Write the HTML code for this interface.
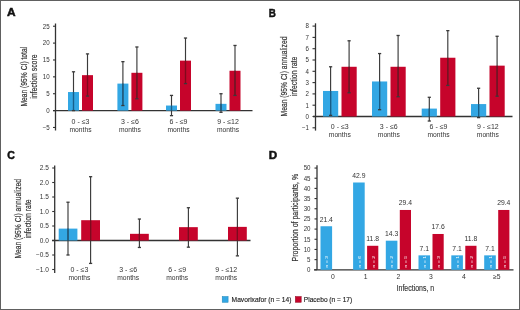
<!DOCTYPE html>
<html><head><meta charset="utf-8"><style>
html,body{margin:0;padding:0;background:#fff;}
body{width:520px;height:310px;overflow:hidden;}
svg{display:block;font-family:"Liberation Sans", sans-serif;will-change:transform;}
</style></head><body>
<svg width="520" height="310" viewBox="0 0 520 310">
<rect x="0" y="0" width="520" height="310" fill="#fff"/>
<text x="6.9" y="16.3" font-size="11.4" text-anchor="start" fill="#111" font-weight="bold" textLength="8.6" lengthAdjust="spacingAndGlyphs" stroke="#111" stroke-width="0.5">A</text>
<line x1="55.5" y1="23.5" x2="55.5" y2="130.5" stroke="#333333" stroke-width="1.3"/>
<line x1="53.0" y1="26.224999999999994" x2="55.5" y2="26.224999999999994" stroke="#333333" stroke-width="1.1"/>
<text x="49.7" y="28.574999999999996" font-size="6.5" text-anchor="end" fill="#333333" font-weight="normal" textLength="6.87" lengthAdjust="spacingAndGlyphs">25</text>
<line x1="53.0" y1="43.099999999999994" x2="55.5" y2="43.099999999999994" stroke="#333333" stroke-width="1.1"/>
<text x="49.7" y="45.449999999999996" font-size="6.5" text-anchor="end" fill="#333333" font-weight="normal" textLength="6.87" lengthAdjust="spacingAndGlyphs">20</text>
<line x1="53.0" y1="59.974999999999994" x2="55.5" y2="59.974999999999994" stroke="#333333" stroke-width="1.1"/>
<text x="49.7" y="62.324999999999996" font-size="6.5" text-anchor="end" fill="#333333" font-weight="normal" textLength="6.87" lengthAdjust="spacingAndGlyphs">15</text>
<line x1="53.0" y1="76.85" x2="55.5" y2="76.85" stroke="#333333" stroke-width="1.1"/>
<text x="49.7" y="79.19999999999999" font-size="6.5" text-anchor="end" fill="#333333" font-weight="normal" textLength="6.87" lengthAdjust="spacingAndGlyphs">10</text>
<line x1="53.0" y1="93.725" x2="55.5" y2="93.725" stroke="#333333" stroke-width="1.1"/>
<text x="49.7" y="96.07499999999999" font-size="6.5" text-anchor="end" fill="#333333" font-weight="normal" textLength="3.43" lengthAdjust="spacingAndGlyphs">5</text>
<line x1="53.0" y1="110.6" x2="55.5" y2="110.6" stroke="#333333" stroke-width="1.1"/>
<text x="49.7" y="112.94999999999999" font-size="6.5" text-anchor="end" fill="#333333" font-weight="normal" textLength="3.43" lengthAdjust="spacingAndGlyphs">0</text>
<line x1="53.0" y1="127.475" x2="55.5" y2="127.475" stroke="#333333" stroke-width="1.1"/>
<text x="49.7" y="129.825" font-size="6.5" text-anchor="end" fill="#333333" font-weight="normal" textLength="7.04" lengthAdjust="spacingAndGlyphs">−5</text>
<line x1="53" y1="110.6" x2="252.5" y2="110.6" stroke="#333333" stroke-width="1.3"/>
<rect x="68.00" y="92.04" width="11.00" height="18.56" fill="#33a7e4"/>
<rect x="82.00" y="75.16" width="11.00" height="35.44" fill="#c6042b"/>
<line x1="73.5" y1="71.7875" x2="73.5" y2="110.6" stroke="#3a3a3a" stroke-width="1.15"/>
<line x1="73.5" y1="92.0375" x2="73.5" y2="110.6" stroke="#165f8c" stroke-width="1.15"/>
<line x1="71.9" y1="71.7875" x2="75.1" y2="71.7875" stroke="#3a3a3a" stroke-width="1.3"/>
<line x1="71.9" y1="110.6" x2="75.1" y2="110.6" stroke="#3a3a3a" stroke-width="1.3"/>
<line x1="87.5" y1="53.89999999999999" x2="87.5" y2="96.08749999999999" stroke="#3a3a3a" stroke-width="1.15"/>
<line x1="87.5" y1="75.1625" x2="87.5" y2="96.08749999999999" stroke="#82081c" stroke-width="1.15"/>
<line x1="85.9" y1="53.89999999999999" x2="89.1" y2="53.89999999999999" stroke="#3a3a3a" stroke-width="1.3"/>
<line x1="85.9" y1="96.08749999999999" x2="89.1" y2="96.08749999999999" stroke="#3a3a3a" stroke-width="1.3"/>
<rect x="117.40" y="83.60" width="11.00" height="27.00" fill="#33a7e4"/>
<rect x="131.40" y="72.80" width="11.00" height="37.80" fill="#c6042b"/>
<line x1="122.9" y1="61.662499999999994" x2="122.9" y2="105.5375" stroke="#3a3a3a" stroke-width="1.15"/>
<line x1="122.9" y1="83.6" x2="122.9" y2="105.5375" stroke="#165f8c" stroke-width="1.15"/>
<line x1="121.30000000000001" y1="61.662499999999994" x2="124.5" y2="61.662499999999994" stroke="#3a3a3a" stroke-width="1.3"/>
<line x1="121.30000000000001" y1="105.5375" x2="124.5" y2="105.5375" stroke="#3a3a3a" stroke-width="1.3"/>
<line x1="136.9" y1="46.98124999999999" x2="136.9" y2="98.7875" stroke="#3a3a3a" stroke-width="1.15"/>
<line x1="136.9" y1="72.8" x2="136.9" y2="98.7875" stroke="#82081c" stroke-width="1.15"/>
<line x1="135.3" y1="46.98124999999999" x2="138.5" y2="46.98124999999999" stroke="#3a3a3a" stroke-width="1.3"/>
<line x1="135.3" y1="98.7875" x2="138.5" y2="98.7875" stroke="#3a3a3a" stroke-width="1.3"/>
<rect x="166.00" y="105.54" width="11.00" height="5.06" fill="#33a7e4"/>
<rect x="180.00" y="60.65" width="11.00" height="49.95" fill="#c6042b"/>
<line x1="171.5" y1="95.4125" x2="171.5" y2="115.6625" stroke="#3a3a3a" stroke-width="1.15"/>
<line x1="171.5" y1="105.5375" x2="171.5" y2="110.6" stroke="#165f8c" stroke-width="1.15"/>
<line x1="169.9" y1="95.4125" x2="173.1" y2="95.4125" stroke="#3a3a3a" stroke-width="1.3"/>
<line x1="169.9" y1="115.6625" x2="173.1" y2="115.6625" stroke="#3a3a3a" stroke-width="1.3"/>
<line x1="185.5" y1="38.037499999999994" x2="185.5" y2="83.6" stroke="#3a3a3a" stroke-width="1.15"/>
<line x1="185.5" y1="60.64999999999999" x2="185.5" y2="83.6" stroke="#82081c" stroke-width="1.15"/>
<line x1="183.9" y1="38.037499999999994" x2="187.1" y2="38.037499999999994" stroke="#3a3a3a" stroke-width="1.3"/>
<line x1="183.9" y1="83.6" x2="187.1" y2="83.6" stroke="#3a3a3a" stroke-width="1.3"/>
<rect x="215.50" y="103.85" width="11.00" height="6.75" fill="#33a7e4"/>
<rect x="229.50" y="70.77" width="11.00" height="39.83" fill="#c6042b"/>
<line x1="221.0" y1="93.725" x2="221.0" y2="112.2875" stroke="#3a3a3a" stroke-width="1.15"/>
<line x1="221.0" y1="103.85" x2="221.0" y2="110.6" stroke="#165f8c" stroke-width="1.15"/>
<line x1="219.4" y1="93.725" x2="222.6" y2="93.725" stroke="#3a3a3a" stroke-width="1.3"/>
<line x1="219.4" y1="112.2875" x2="222.6" y2="112.2875" stroke="#3a3a3a" stroke-width="1.3"/>
<line x1="235.0" y1="45.46249999999999" x2="235.0" y2="95.4125" stroke="#3a3a3a" stroke-width="1.15"/>
<line x1="235.0" y1="70.77499999999999" x2="235.0" y2="95.4125" stroke="#82081c" stroke-width="1.15"/>
<line x1="233.4" y1="45.46249999999999" x2="236.6" y2="45.46249999999999" stroke="#3a3a3a" stroke-width="1.3"/>
<line x1="233.4" y1="95.4125" x2="236.6" y2="95.4125" stroke="#3a3a3a" stroke-width="1.3"/>
<text x="80.5" y="124.0" font-size="7" text-anchor="middle" fill="#333333" font-weight="normal">0 - ≤3</text>
<text x="80.5" y="131.5" font-size="7" text-anchor="middle" fill="#333333" font-weight="normal" textLength="22" lengthAdjust="spacingAndGlyphs">months</text>
<text x="129.9" y="124.0" font-size="7" text-anchor="middle" fill="#333333" font-weight="normal">3 - ≤6</text>
<text x="129.9" y="131.5" font-size="7" text-anchor="middle" fill="#333333" font-weight="normal" textLength="22" lengthAdjust="spacingAndGlyphs">months</text>
<text x="178.5" y="124.0" font-size="7" text-anchor="middle" fill="#333333" font-weight="normal">6 - ≤9</text>
<text x="178.5" y="131.5" font-size="7" text-anchor="middle" fill="#333333" font-weight="normal" textLength="22" lengthAdjust="spacingAndGlyphs">months</text>
<text x="228.0" y="124.0" font-size="7" text-anchor="middle" fill="#333333" font-weight="normal">9 - ≤12</text>
<text x="228.0" y="131.5" font-size="7" text-anchor="middle" fill="#333333" font-weight="normal" textLength="22" lengthAdjust="spacingAndGlyphs">months</text>
<text x="26.8" y="76.7" font-size="9.3" text-anchor="middle" fill="#333333" font-weight="normal" textLength="59.8" lengthAdjust="spacingAndGlyphs" transform="rotate(-90 26.8 76.7)" stroke="#333" stroke-width="0.2">Mean (95% CI) total</text>
<text x="36.9" y="76.65" font-size="9.3" text-anchor="middle" fill="#333333" font-weight="normal" textLength="44.3" lengthAdjust="spacingAndGlyphs" transform="rotate(-90 36.9 76.65)" stroke="#333" stroke-width="0.2">infection score</text>
<text x="268.8" y="16.5" font-size="11.4" text-anchor="start" fill="#111" font-weight="bold" textLength="7.1" lengthAdjust="spacingAndGlyphs" stroke="#111" stroke-width="0.5">B</text>
<line x1="315.5" y1="23.3" x2="315.5" y2="130.6" stroke="#333333" stroke-width="1.3"/>
<line x1="312.5" y1="26.099999999999994" x2="315.5" y2="26.099999999999994" stroke="#333333" stroke-width="1.1"/>
<text x="309.0" y="28.449999999999996" font-size="6.5" text-anchor="end" fill="#333333" font-weight="normal" textLength="3.43" lengthAdjust="spacingAndGlyphs">8</text>
<line x1="312.5" y1="37.39999999999999" x2="315.5" y2="37.39999999999999" stroke="#333333" stroke-width="1.1"/>
<text x="309.0" y="39.74999999999999" font-size="6.5" text-anchor="end" fill="#333333" font-weight="normal" textLength="3.43" lengthAdjust="spacingAndGlyphs">7</text>
<line x1="312.5" y1="48.69999999999999" x2="315.5" y2="48.69999999999999" stroke="#333333" stroke-width="1.1"/>
<text x="309.0" y="51.04999999999999" font-size="6.5" text-anchor="end" fill="#333333" font-weight="normal" textLength="3.43" lengthAdjust="spacingAndGlyphs">6</text>
<line x1="312.5" y1="60.0" x2="315.5" y2="60.0" stroke="#333333" stroke-width="1.1"/>
<text x="309.0" y="62.35" font-size="6.5" text-anchor="end" fill="#333333" font-weight="normal" textLength="3.43" lengthAdjust="spacingAndGlyphs">5</text>
<line x1="312.5" y1="71.3" x2="315.5" y2="71.3" stroke="#333333" stroke-width="1.1"/>
<text x="309.0" y="73.64999999999999" font-size="6.5" text-anchor="end" fill="#333333" font-weight="normal" textLength="3.43" lengthAdjust="spacingAndGlyphs">4</text>
<line x1="312.5" y1="82.6" x2="315.5" y2="82.6" stroke="#333333" stroke-width="1.1"/>
<text x="309.0" y="84.94999999999999" font-size="6.5" text-anchor="end" fill="#333333" font-weight="normal" textLength="3.43" lengthAdjust="spacingAndGlyphs">3</text>
<line x1="312.5" y1="93.9" x2="315.5" y2="93.9" stroke="#333333" stroke-width="1.1"/>
<text x="309.0" y="96.25" font-size="6.5" text-anchor="end" fill="#333333" font-weight="normal" textLength="3.43" lengthAdjust="spacingAndGlyphs">2</text>
<line x1="312.5" y1="105.2" x2="315.5" y2="105.2" stroke="#333333" stroke-width="1.1"/>
<text x="309.0" y="107.55" font-size="6.5" text-anchor="end" fill="#333333" font-weight="normal" textLength="3.43" lengthAdjust="spacingAndGlyphs">1</text>
<line x1="312.5" y1="116.5" x2="315.5" y2="116.5" stroke="#333333" stroke-width="1.1"/>
<text x="309.0" y="118.85" font-size="6.5" text-anchor="end" fill="#333333" font-weight="normal" textLength="3.43" lengthAdjust="spacingAndGlyphs">0</text>
<line x1="312.5" y1="127.8" x2="315.5" y2="127.8" stroke="#333333" stroke-width="1.1"/>
<text x="309.0" y="130.15" font-size="6.5" text-anchor="end" fill="#333333" font-weight="normal" textLength="7.04" lengthAdjust="spacingAndGlyphs">−1</text>
<line x1="313" y1="116.5" x2="512.5" y2="116.5" stroke="#333333" stroke-width="1.3"/>
<rect x="323.00" y="90.96" width="15.20" height="25.54" fill="#33a7e4"/>
<rect x="341.50" y="66.78" width="15.20" height="49.72" fill="#c6042b"/>
<line x1="330.6" y1="66.78" x2="330.6" y2="115.37" stroke="#3a3a3a" stroke-width="1.15"/>
<line x1="330.6" y1="90.962" x2="330.6" y2="115.37" stroke="#165f8c" stroke-width="1.15"/>
<line x1="329.0" y1="66.78" x2="332.20000000000005" y2="66.78" stroke="#3a3a3a" stroke-width="1.3"/>
<line x1="329.0" y1="115.37" x2="332.20000000000005" y2="115.37" stroke="#3a3a3a" stroke-width="1.3"/>
<line x1="349.1" y1="40.78999999999999" x2="349.1" y2="92.77" stroke="#3a3a3a" stroke-width="1.15"/>
<line x1="349.1" y1="66.78" x2="349.1" y2="92.77" stroke="#82081c" stroke-width="1.15"/>
<line x1="347.5" y1="40.78999999999999" x2="350.70000000000005" y2="40.78999999999999" stroke="#3a3a3a" stroke-width="1.3"/>
<line x1="347.5" y1="92.77" x2="350.70000000000005" y2="92.77" stroke="#3a3a3a" stroke-width="1.3"/>
<rect x="372.00" y="81.47" width="15.20" height="35.03" fill="#33a7e4"/>
<rect x="390.50" y="66.78" width="15.20" height="49.72" fill="#c6042b"/>
<line x1="379.6" y1="53.55899999999999" x2="379.6" y2="109.72" stroke="#3a3a3a" stroke-width="1.15"/>
<line x1="379.6" y1="81.47" x2="379.6" y2="109.72" stroke="#165f8c" stroke-width="1.15"/>
<line x1="378.0" y1="53.55899999999999" x2="381.20000000000005" y2="53.55899999999999" stroke="#3a3a3a" stroke-width="1.3"/>
<line x1="378.0" y1="109.72" x2="381.20000000000005" y2="109.72" stroke="#3a3a3a" stroke-width="1.3"/>
<line x1="398.1" y1="35.479" x2="398.1" y2="96.725" stroke="#3a3a3a" stroke-width="1.15"/>
<line x1="398.1" y1="66.78" x2="398.1" y2="96.725" stroke="#82081c" stroke-width="1.15"/>
<line x1="396.5" y1="35.479" x2="399.70000000000005" y2="35.479" stroke="#3a3a3a" stroke-width="1.3"/>
<line x1="396.5" y1="96.725" x2="399.70000000000005" y2="96.725" stroke="#3a3a3a" stroke-width="1.3"/>
<rect x="421.70" y="108.59" width="15.20" height="7.91" fill="#33a7e4"/>
<rect x="440.20" y="57.74" width="15.20" height="58.76" fill="#c6042b"/>
<line x1="429.3" y1="97.28999999999999" x2="429.3" y2="121.02" stroke="#3a3a3a" stroke-width="1.15"/>
<line x1="429.3" y1="108.59" x2="429.3" y2="116.5" stroke="#165f8c" stroke-width="1.15"/>
<line x1="427.7" y1="97.28999999999999" x2="430.90000000000003" y2="97.28999999999999" stroke="#3a3a3a" stroke-width="1.3"/>
<line x1="427.7" y1="121.02" x2="430.90000000000003" y2="121.02" stroke="#3a3a3a" stroke-width="1.3"/>
<line x1="447.8" y1="30.620000000000005" x2="447.8" y2="85.425" stroke="#3a3a3a" stroke-width="1.15"/>
<line x1="447.8" y1="57.739999999999995" x2="447.8" y2="85.425" stroke="#82081c" stroke-width="1.15"/>
<line x1="446.2" y1="30.620000000000005" x2="449.40000000000003" y2="30.620000000000005" stroke="#3a3a3a" stroke-width="1.3"/>
<line x1="446.2" y1="85.425" x2="449.40000000000003" y2="85.425" stroke="#3a3a3a" stroke-width="1.3"/>
<rect x="471.00" y="104.07" width="15.20" height="12.43" fill="#33a7e4"/>
<rect x="489.50" y="65.65" width="15.20" height="50.85" fill="#c6042b"/>
<line x1="478.6" y1="88.25" x2="478.6" y2="117.63" stroke="#3a3a3a" stroke-width="1.15"/>
<line x1="478.6" y1="104.07" x2="478.6" y2="116.5" stroke="#165f8c" stroke-width="1.15"/>
<line x1="477.0" y1="88.25" x2="480.20000000000005" y2="88.25" stroke="#3a3a3a" stroke-width="1.3"/>
<line x1="477.0" y1="117.63" x2="480.20000000000005" y2="117.63" stroke="#3a3a3a" stroke-width="1.3"/>
<line x1="497.1" y1="36.269999999999996" x2="497.1" y2="96.16" stroke="#3a3a3a" stroke-width="1.15"/>
<line x1="497.1" y1="65.65" x2="497.1" y2="96.16" stroke="#82081c" stroke-width="1.15"/>
<line x1="495.5" y1="36.269999999999996" x2="498.70000000000005" y2="36.269999999999996" stroke="#3a3a3a" stroke-width="1.3"/>
<line x1="495.5" y1="96.16" x2="498.70000000000005" y2="96.16" stroke="#3a3a3a" stroke-width="1.3"/>
<text x="339.8" y="129.1" font-size="7" text-anchor="middle" fill="#333333" font-weight="normal">0 - ≤3</text>
<text x="339.8" y="136.8" font-size="7" text-anchor="middle" fill="#333333" font-weight="normal" textLength="22" lengthAdjust="spacingAndGlyphs">months</text>
<text x="388.8" y="129.1" font-size="7" text-anchor="middle" fill="#333333" font-weight="normal">3 - ≤6</text>
<text x="388.8" y="136.8" font-size="7" text-anchor="middle" fill="#333333" font-weight="normal" textLength="22" lengthAdjust="spacingAndGlyphs">months</text>
<text x="438.5" y="129.1" font-size="7" text-anchor="middle" fill="#333333" font-weight="normal">6 - ≤9</text>
<text x="438.5" y="136.8" font-size="7" text-anchor="middle" fill="#333333" font-weight="normal" textLength="22" lengthAdjust="spacingAndGlyphs">months</text>
<text x="487.8" y="129.1" font-size="7" text-anchor="middle" fill="#333333" font-weight="normal">9 - ≤12</text>
<text x="487.8" y="136.8" font-size="7" text-anchor="middle" fill="#333333" font-weight="normal" textLength="22" lengthAdjust="spacingAndGlyphs">months</text>
<text x="287.0" y="76.5" font-size="9.3" text-anchor="middle" fill="#333333" font-weight="normal" textLength="80" lengthAdjust="spacingAndGlyphs" transform="rotate(-90 287.0 76.5)" stroke="#333" stroke-width="0.2">Mean (95% CI) annualized</text>
<text x="297.2" y="76.45" font-size="9.3" text-anchor="middle" fill="#333333" font-weight="normal" textLength="39.7" lengthAdjust="spacingAndGlyphs" transform="rotate(-90 297.2 76.45)" stroke="#333" stroke-width="0.2">infection rate</text>
<text x="7.3" y="158.8" font-size="11.4" text-anchor="start" fill="#111" font-weight="bold" textLength="7.6" lengthAdjust="spacingAndGlyphs" stroke="#111" stroke-width="0.5">C</text>
<line x1="54.7" y1="165.5" x2="54.7" y2="273.0" stroke="#333333" stroke-width="1.3"/>
<line x1="52.2" y1="168.0" x2="54.7" y2="168.0" stroke="#333333" stroke-width="1.1"/>
<text x="48.8" y="170.35" font-size="6.5" text-anchor="end" fill="#333333" font-weight="normal" textLength="9.04" lengthAdjust="spacingAndGlyphs">2.5</text>
<line x1="52.2" y1="182.5" x2="54.7" y2="182.5" stroke="#333333" stroke-width="1.1"/>
<text x="48.8" y="184.85" font-size="6.5" text-anchor="end" fill="#333333" font-weight="normal" textLength="9.04" lengthAdjust="spacingAndGlyphs">2.0</text>
<line x1="52.2" y1="197.0" x2="54.7" y2="197.0" stroke="#333333" stroke-width="1.1"/>
<text x="48.8" y="199.35" font-size="6.5" text-anchor="end" fill="#333333" font-weight="normal" textLength="9.04" lengthAdjust="spacingAndGlyphs">1.5</text>
<line x1="52.2" y1="211.5" x2="54.7" y2="211.5" stroke="#333333" stroke-width="1.1"/>
<text x="48.8" y="213.85" font-size="6.5" text-anchor="end" fill="#333333" font-weight="normal" textLength="9.04" lengthAdjust="spacingAndGlyphs">1.0</text>
<line x1="52.2" y1="226.0" x2="54.7" y2="226.0" stroke="#333333" stroke-width="1.1"/>
<text x="48.8" y="228.35" font-size="6.5" text-anchor="end" fill="#333333" font-weight="normal" textLength="9.04" lengthAdjust="spacingAndGlyphs">0.5</text>
<line x1="52.2" y1="240.5" x2="54.7" y2="240.5" stroke="#333333" stroke-width="1.1"/>
<text x="48.8" y="242.85" font-size="6.5" text-anchor="end" fill="#333333" font-weight="normal" textLength="9.04" lengthAdjust="spacingAndGlyphs">0.0</text>
<line x1="52.2" y1="255.0" x2="54.7" y2="255.0" stroke="#333333" stroke-width="1.1"/>
<text x="48.8" y="257.35" font-size="6.5" text-anchor="end" fill="#333333" font-weight="normal" textLength="12.83" lengthAdjust="spacingAndGlyphs">−0.5</text>
<line x1="52.2" y1="269.5" x2="54.7" y2="269.5" stroke="#333333" stroke-width="1.1"/>
<text x="48.8" y="271.85" font-size="6.5" text-anchor="end" fill="#333333" font-weight="normal" textLength="12.83" lengthAdjust="spacingAndGlyphs">−1.0</text>
<line x1="52" y1="240.5" x2="250.5" y2="240.5" stroke="#333333" stroke-width="1.3"/>
<rect x="58.70" y="228.61" width="18.70" height="11.89" fill="#33a7e4"/>
<line x1="68.0" y1="202.22" x2="68.0" y2="255.0" stroke="#3a3a3a" stroke-width="1.15"/>
<line x1="68.0" y1="228.61" x2="68.0" y2="240.5" stroke="#165f8c" stroke-width="1.15"/>
<line x1="66.4" y1="202.22" x2="69.6" y2="202.22" stroke="#3a3a3a" stroke-width="1.3"/>
<line x1="66.4" y1="255.0" x2="69.6" y2="255.0" stroke="#3a3a3a" stroke-width="1.3"/>
<rect x="81.20" y="220.20" width="18.80" height="20.30" fill="#c6042b"/>
<line x1="90.6" y1="176.7" x2="90.6" y2="263.41" stroke="#3a3a3a" stroke-width="1.15"/>
<line x1="90.6" y1="220.2" x2="90.6" y2="240.5" stroke="#82081c" stroke-width="1.15"/>
<line x1="89.0" y1="176.7" x2="92.19999999999999" y2="176.7" stroke="#3a3a3a" stroke-width="1.3"/>
<line x1="89.0" y1="263.41" x2="92.19999999999999" y2="263.41" stroke="#3a3a3a" stroke-width="1.3"/>
<rect x="130.00" y="233.83" width="18.80" height="6.67" fill="#c6042b"/>
<line x1="139.4" y1="219.04" x2="139.4" y2="247.46" stroke="#3a3a3a" stroke-width="1.15"/>
<line x1="139.4" y1="233.83" x2="139.4" y2="240.5" stroke="#82081c" stroke-width="1.15"/>
<line x1="137.8" y1="219.04" x2="141.0" y2="219.04" stroke="#3a3a3a" stroke-width="1.3"/>
<line x1="137.8" y1="247.46" x2="141.0" y2="247.46" stroke="#3a3a3a" stroke-width="1.3"/>
<rect x="179.00" y="227.16" width="18.80" height="13.34" fill="#c6042b"/>
<line x1="188.4" y1="207.73000000000002" x2="188.4" y2="247.17" stroke="#3a3a3a" stroke-width="1.15"/>
<line x1="188.4" y1="227.16" x2="188.4" y2="240.5" stroke="#82081c" stroke-width="1.15"/>
<line x1="186.8" y1="207.73000000000002" x2="190.0" y2="207.73000000000002" stroke="#3a3a3a" stroke-width="1.3"/>
<line x1="186.8" y1="247.17" x2="190.0" y2="247.17" stroke="#3a3a3a" stroke-width="1.3"/>
<rect x="228.00" y="226.87" width="18.80" height="13.63" fill="#c6042b"/>
<line x1="237.4" y1="198.16" x2="237.4" y2="255.87" stroke="#3a3a3a" stroke-width="1.15"/>
<line x1="237.4" y1="226.87" x2="237.4" y2="240.5" stroke="#82081c" stroke-width="1.15"/>
<line x1="235.8" y1="198.16" x2="239.0" y2="198.16" stroke="#3a3a3a" stroke-width="1.3"/>
<line x1="235.8" y1="255.87" x2="239.0" y2="255.87" stroke="#3a3a3a" stroke-width="1.3"/>
<text x="79.4" y="272.2" font-size="7" text-anchor="middle" fill="#333333" font-weight="normal">0 - ≤3</text>
<text x="79.4" y="279.6" font-size="7" text-anchor="middle" fill="#333333" font-weight="normal" textLength="22" lengthAdjust="spacingAndGlyphs">months</text>
<text x="128.2" y="272.2" font-size="7" text-anchor="middle" fill="#333333" font-weight="normal">3 - ≤6</text>
<text x="128.2" y="279.6" font-size="7" text-anchor="middle" fill="#333333" font-weight="normal" textLength="22" lengthAdjust="spacingAndGlyphs">months</text>
<text x="177.2" y="272.2" font-size="7" text-anchor="middle" fill="#333333" font-weight="normal">6 - ≤9</text>
<text x="177.2" y="279.6" font-size="7" text-anchor="middle" fill="#333333" font-weight="normal" textLength="22" lengthAdjust="spacingAndGlyphs">months</text>
<text x="226.2" y="272.2" font-size="7" text-anchor="middle" fill="#333333" font-weight="normal">9 - ≤12</text>
<text x="226.2" y="279.6" font-size="7" text-anchor="middle" fill="#333333" font-weight="normal" textLength="22" lengthAdjust="spacingAndGlyphs">months</text>
<text x="20.6" y="218.8" font-size="9.3" text-anchor="middle" fill="#333333" font-weight="normal" textLength="79.6" lengthAdjust="spacingAndGlyphs" transform="rotate(-90 20.6 218.8)" stroke="#333" stroke-width="0.2">Mean (95% CI) annualized</text>
<text x="31.0" y="219.0" font-size="9.3" text-anchor="middle" fill="#333333" font-weight="normal" textLength="39.2" lengthAdjust="spacingAndGlyphs" transform="rotate(-90 31.0 219.0)" stroke="#333" stroke-width="0.2">infection rate</text>
<text x="268.8" y="158.8" font-size="11.4" text-anchor="start" fill="#111" font-weight="bold" textLength="8.4" lengthAdjust="spacingAndGlyphs" stroke="#111" stroke-width="0.5">D</text>
<line x1="317.0" y1="165.2" x2="317.0" y2="269.8" stroke="#333333" stroke-width="1.3"/>
<line x1="314.5" y1="168.05" x2="317.0" y2="168.05" stroke="#333333" stroke-width="1.1"/>
<text x="310.5" y="170.4" font-size="6.5" text-anchor="end" fill="#333333" font-weight="normal" textLength="6.87" lengthAdjust="spacingAndGlyphs">50</text>
<line x1="314.5" y1="178.22500000000002" x2="317.0" y2="178.22500000000002" stroke="#333333" stroke-width="1.1"/>
<text x="310.5" y="180.57500000000002" font-size="6.5" text-anchor="end" fill="#333333" font-weight="normal" textLength="6.87" lengthAdjust="spacingAndGlyphs">45</text>
<line x1="314.5" y1="188.4" x2="317.0" y2="188.4" stroke="#333333" stroke-width="1.1"/>
<text x="310.5" y="190.75" font-size="6.5" text-anchor="end" fill="#333333" font-weight="normal" textLength="6.87" lengthAdjust="spacingAndGlyphs">40</text>
<line x1="314.5" y1="198.575" x2="317.0" y2="198.575" stroke="#333333" stroke-width="1.1"/>
<text x="310.5" y="200.92499999999998" font-size="6.5" text-anchor="end" fill="#333333" font-weight="normal" textLength="6.87" lengthAdjust="spacingAndGlyphs">35</text>
<line x1="314.5" y1="208.75" x2="317.0" y2="208.75" stroke="#333333" stroke-width="1.1"/>
<text x="310.5" y="211.1" font-size="6.5" text-anchor="end" fill="#333333" font-weight="normal" textLength="6.87" lengthAdjust="spacingAndGlyphs">30</text>
<line x1="314.5" y1="218.925" x2="317.0" y2="218.925" stroke="#333333" stroke-width="1.1"/>
<text x="310.5" y="221.275" font-size="6.5" text-anchor="end" fill="#333333" font-weight="normal" textLength="6.87" lengthAdjust="spacingAndGlyphs">25</text>
<line x1="314.5" y1="229.10000000000002" x2="317.0" y2="229.10000000000002" stroke="#333333" stroke-width="1.1"/>
<text x="310.5" y="231.45000000000002" font-size="6.5" text-anchor="end" fill="#333333" font-weight="normal" textLength="6.87" lengthAdjust="spacingAndGlyphs">20</text>
<line x1="314.5" y1="239.275" x2="317.0" y2="239.275" stroke="#333333" stroke-width="1.1"/>
<text x="310.5" y="241.625" font-size="6.5" text-anchor="end" fill="#333333" font-weight="normal" textLength="6.87" lengthAdjust="spacingAndGlyphs">15</text>
<line x1="314.5" y1="249.45000000000002" x2="317.0" y2="249.45000000000002" stroke="#333333" stroke-width="1.1"/>
<text x="310.5" y="251.8" font-size="6.5" text-anchor="end" fill="#333333" font-weight="normal" textLength="6.87" lengthAdjust="spacingAndGlyphs">10</text>
<line x1="314.5" y1="259.625" x2="317.0" y2="259.625" stroke="#333333" stroke-width="1.1"/>
<text x="310.5" y="261.975" font-size="6.5" text-anchor="end" fill="#333333" font-weight="normal" textLength="3.43" lengthAdjust="spacingAndGlyphs">5</text>
<line x1="314.5" y1="269.8" x2="317.0" y2="269.8" stroke="#333333" stroke-width="1.1"/>
<text x="310.5" y="272.15000000000003" font-size="6.5" text-anchor="end" fill="#333333" font-weight="normal" textLength="3.43" lengthAdjust="spacingAndGlyphs">0</text>
<line x1="314" y1="269.8" x2="513.5" y2="269.8" stroke="#333333" stroke-width="1.3"/>
<rect x="320.50" y="226.25" width="11.60" height="43.55" fill="#33a7e4"/>
<text x="326.3" y="221.651" font-size="6.8" text-anchor="middle" fill="#333333" font-weight="normal">21.4</text>
<text x="328.1" y="267.5" font-size="4.3" text-anchor="start" fill="#ffffff" font-weight="normal" textLength="11.5" lengthAdjust="spacingAndGlyphs" transform="rotate(-90 328.1 267.5)">n = 3</text>
<text x="333.0" y="278.7" font-size="6.8" text-anchor="middle" fill="#333333" font-weight="normal">0</text>
<rect x="353.10" y="182.50" width="11.60" height="87.30" fill="#33a7e4"/>
<text x="358.90000000000003" y="177.8985" font-size="6.8" text-anchor="middle" fill="#333333" font-weight="normal">42.9</text>
<text x="360.70000000000005" y="267.5" font-size="4.3" text-anchor="start" fill="#ffffff" font-weight="normal" textLength="11.5" lengthAdjust="spacingAndGlyphs" transform="rotate(-90 360.70000000000005 267.5)">n = 6</text>
<rect x="367.10" y="245.79" width="11.20" height="24.01" fill="#c6042b"/>
<text x="372.70000000000005" y="241.187" font-size="6.8" text-anchor="middle" fill="#333333" font-weight="normal">11.8</text>
<text x="374.5" y="267.5" font-size="4.3" text-anchor="start" fill="#ffffff" font-weight="normal" textLength="11.5" lengthAdjust="spacingAndGlyphs" transform="rotate(-90 374.5 267.5)">n = 2</text>
<text x="365.6" y="278.7" font-size="6.8" text-anchor="middle" fill="#333333" font-weight="normal">1</text>
<rect x="385.80" y="240.70" width="11.60" height="29.10" fill="#33a7e4"/>
<text x="391.6" y="236.0995" font-size="6.8" text-anchor="middle" fill="#333333" font-weight="normal">14.3</text>
<text x="393.40000000000003" y="267.5" font-size="4.3" text-anchor="start" fill="#ffffff" font-weight="normal" textLength="11.5" lengthAdjust="spacingAndGlyphs" transform="rotate(-90 393.40000000000003 267.5)">n = 2</text>
<rect x="399.80" y="209.97" width="11.20" height="59.83" fill="#c6042b"/>
<text x="405.40000000000003" y="205.371" font-size="6.8" text-anchor="middle" fill="#333333" font-weight="normal">29.4</text>
<text x="407.2" y="267.5" font-size="4.3" text-anchor="start" fill="#ffffff" font-weight="normal" textLength="11.5" lengthAdjust="spacingAndGlyphs" transform="rotate(-90 407.2 267.5)">n = 5</text>
<text x="398.3" y="278.7" font-size="6.8" text-anchor="middle" fill="#333333" font-weight="normal">2</text>
<rect x="418.50" y="255.35" width="11.60" height="14.45" fill="#33a7e4"/>
<text x="424.3" y="250.75150000000002" font-size="6.8" text-anchor="middle" fill="#333333" font-weight="normal">7.1</text>
<text x="426.1" y="267.5" font-size="4.3" text-anchor="start" fill="#ffffff" font-weight="normal" textLength="11.5" lengthAdjust="spacingAndGlyphs" transform="rotate(-90 426.1 267.5)">n = 1</text>
<rect x="432.50" y="233.98" width="11.20" height="35.82" fill="#c6042b"/>
<text x="438.1" y="229.38400000000001" font-size="6.8" text-anchor="middle" fill="#333333" font-weight="normal">17.6</text>
<text x="439.9" y="267.5" font-size="4.3" text-anchor="start" fill="#ffffff" font-weight="normal" textLength="11.5" lengthAdjust="spacingAndGlyphs" transform="rotate(-90 439.9 267.5)">n = 3</text>
<text x="431.0" y="278.7" font-size="6.8" text-anchor="middle" fill="#333333" font-weight="normal">3</text>
<rect x="451.30" y="255.35" width="11.60" height="14.45" fill="#33a7e4"/>
<text x="457.1" y="250.75150000000002" font-size="6.8" text-anchor="middle" fill="#333333" font-weight="normal">7.1</text>
<text x="458.90000000000003" y="267.5" font-size="4.3" text-anchor="start" fill="#ffffff" font-weight="normal" textLength="11.5" lengthAdjust="spacingAndGlyphs" transform="rotate(-90 458.90000000000003 267.5)">n = 1</text>
<rect x="465.30" y="245.79" width="11.20" height="24.01" fill="#c6042b"/>
<text x="470.90000000000003" y="241.187" font-size="6.8" text-anchor="middle" fill="#333333" font-weight="normal">11.8</text>
<text x="472.7" y="267.5" font-size="4.3" text-anchor="start" fill="#ffffff" font-weight="normal" textLength="11.5" lengthAdjust="spacingAndGlyphs" transform="rotate(-90 472.7 267.5)">n = 2</text>
<text x="463.8" y="278.7" font-size="6.8" text-anchor="middle" fill="#333333" font-weight="normal">4</text>
<rect x="484.20" y="255.35" width="11.60" height="14.45" fill="#33a7e4"/>
<text x="490.0" y="250.75150000000002" font-size="6.8" text-anchor="middle" fill="#333333" font-weight="normal">7.1</text>
<text x="491.8" y="267.5" font-size="4.3" text-anchor="start" fill="#ffffff" font-weight="normal" textLength="11.5" lengthAdjust="spacingAndGlyphs" transform="rotate(-90 491.8 267.5)">n = 1</text>
<rect x="498.20" y="209.97" width="11.20" height="59.83" fill="#c6042b"/>
<text x="503.8" y="205.371" font-size="6.8" text-anchor="middle" fill="#333333" font-weight="normal">29.4</text>
<text x="505.59999999999997" y="267.5" font-size="4.3" text-anchor="start" fill="#ffffff" font-weight="normal" textLength="11.5" lengthAdjust="spacingAndGlyphs" transform="rotate(-90 505.59999999999997 267.5)">n = 5</text>
<text x="496.7" y="278.7" font-size="6.8" text-anchor="middle" fill="#333333" font-weight="normal">≥5</text>
<text x="396.6" y="290.7" font-size="9.2" text-anchor="start" fill="#333333" font-weight="normal" textLength="37.6" lengthAdjust="spacingAndGlyphs" stroke="#333333" stroke-width="0.15">Infections, n</text>
<text x="298.0" y="217.65" font-size="9.3" text-anchor="middle" fill="#333333" font-weight="normal" textLength="87.6" lengthAdjust="spacingAndGlyphs" transform="rotate(-90 298.0 217.65)" stroke="#333" stroke-width="0.2">Proportion of participants, %</text>
<rect x="222.2" y="296.5" width="5.9" height="5.8" fill="#33a7e4" stroke="#1d86b8" stroke-width="0.5"/>
<text x="231.6" y="302.0" font-size="7.5" text-anchor="start" fill="#222" font-weight="normal" textLength="59.9" lengthAdjust="spacingAndGlyphs" stroke="#222" stroke-width="0.15">Mavorixafor (n = 14)</text>
<rect x="295.3" y="296.5" width="5.9" height="5.8" fill="#c6042b" stroke="#8d0b20" stroke-width="0.5"/>
<text x="303.8" y="302.0" font-size="7.5" text-anchor="start" fill="#222" font-weight="normal" textLength="48.4" lengthAdjust="spacingAndGlyphs" stroke="#222" stroke-width="0.15">Placebo (n = 17)</text>
<rect x="0" y="0" width="520" height="1" fill="#606060"/><rect x="0" y="309" width="520" height="1" fill="#606060"/><rect x="0" y="0" width="1" height="310" fill="#606060"/><rect x="519" y="0" width="1" height="310" fill="#606060"/>
</svg>
</body></html>
